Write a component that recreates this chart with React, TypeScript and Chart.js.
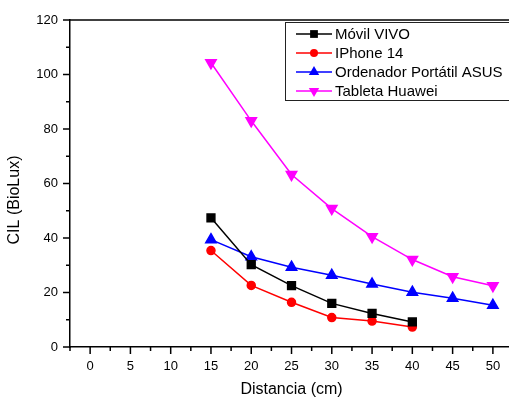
import React, { useEffect, useRef } from "react";
import { Chart, registerables } from "chart.js";

Chart.register(...registerables);

const distances = [15, 20, 25, 30, 35, 40, 45, 50];
const movilVivo = [47.4, 30.2, 22.5, 16.0, 12.3, 9.2];
const iphone14 = [35.4, 22.6, 16.4, 10.8, 9.5, 7.3];
const asus = [39.4, 33.1, 29.3, 26.3, 23.1, 20.1, 17.9, 15.3];
const huawei = [104.3, 83.0, 63.3, 50.8, 40.5, 32.1, 25.8, 22.5];
const seriesNames = ["Móvil VIVO", "IPhone 14", "Ordenador Portátil ASUS", "Tableta Huawei"];
const xTitle = "Distancia (cm)";
const yTitle = "CIL (BioLux)";

const FONT = "'Liberation Sans', Arial, sans-serif";

const toPoints = (vals: number[]) => vals.map((v, i) => ({ x: distances[i], y: v }));

function drawMarker(ctx: any, style: string, rot: number, r: number, x: number, y: number) {
  ctx.beginPath();
  if (style === "rect") {
    const s = r * Math.SQRT2;
    ctx.rect(x - s / 2, y - s / 2, s, s);
  } else if (style === "circle") {
    ctx.arc(x, y, r, 0, Math.PI * 2);
  } else if (style === "triangle") {
    const a = (rot * Math.PI) / 180;
    for (let k = 0; k < 3; k++) {
      const ang = a - Math.PI / 2 + (k * 2 * Math.PI) / 3;
      const px = x + Math.cos(ang) * r;
      const py = y + Math.sin(ang) * r;
      if (k === 0) ctx.moveTo(px, py);
      else ctx.lineTo(px, py);
    }
    ctx.closePath();
  }
  ctx.fill();
}

const decorPlugin = {
  id: "decor",
  afterDraw(chart: any) {
    const ctx = chart.ctx;
    const { left, right, top, bottom } = chart.chartArea;
    const xs = chart.scales.x;
    const ys = chart.scales.y;
    ctx.save();
    ctx.strokeStyle = "#000";
    ctx.lineWidth = 1.5;
    ctx.beginPath();
    ctx.moveTo(left, top);
    ctx.lineTo(right, top);
    ctx.stroke();
    xs.ticks.forEach((t: any) => {
      const px = xs.getPixelForValue(t.value);
      const major = Math.abs(t.value % 5) < 1e-6;
      ctx.beginPath();
      ctx.moveTo(px, bottom);
      ctx.lineTo(px, bottom + (major ? 7 : 4));
      ctx.stroke();
    });
    ys.ticks.forEach((t: any) => {
      const py = ys.getPixelForValue(t.value);
      const major = Math.abs(t.value % 20) < 1e-6;
      ctx.beginPath();
      ctx.moveTo(left, py);
      ctx.lineTo(left - (major ? 7 : 4), py);
      ctx.stroke();
    });
    ctx.fillStyle = "#000";
    ctx.font = `16px ${FONT}`;
    ctx.textAlign = "center";
    ctx.textBaseline = "middle";
    ctx.fillText(xTitle, (left + right) / 2 + 2, 390);
    ctx.save();
    ctx.translate(15, 200);
    ctx.rotate(-Math.PI / 2);
    ctx.fillText(yTitle, 0, 0);
    ctx.restore();
    const bx = 285, by = 22, bw = 240, bh = 78;
    ctx.fillStyle = "#fff";
    ctx.fillRect(bx, by, bw, bh);
    ctx.lineWidth = 1;
    ctx.strokeStyle = "#222";
    ctx.strokeRect(bx + 0.5, by + 0.5, bw, bh);
    ctx.font = `15px ${FONT}`;
    ctx.textAlign = "left";
    chart.data.datasets.forEach((ds: any, i: number) => {
      const y = 34 + i * 19;
      ctx.strokeStyle = ds.borderColor;
      ctx.lineWidth = 1.5;
      ctx.beginPath();
      ctx.moveTo(296, y);
      ctx.lineTo(332, y);
      ctx.stroke();
      ctx.fillStyle = ds.pointBackgroundColor;
      drawMarker(ctx, ds.pointStyle, ds.pointRotation || 0, ds.pointRadius, 314, y);
      ctx.fillStyle = "#000";
      ctx.fillText(ds.label, 335, y + 1);
    });
    ctx.restore();
  },
};

export default function App() {
  const ref = useRef<HTMLCanvasElement>(null);
  useEffect(() => {
    document.body.style.margin = "0";
    const canvas = ref.current!;
    const mk = (label: string, vals: number[], color: string, style: string, radius: number, rotation = 0) => ({
      label,
      data: toPoints(vals),
      borderColor: color,
      backgroundColor: color,
      pointBackgroundColor: color,
      pointBorderColor: color,
      pointStyle: style,
      pointRadius: radius,
      pointRotation: rotation,
      borderWidth: 1.5,
      tension: 0,
    });
    const chart = new Chart(canvas, {
      type: "line",
      data: {
        datasets: [
          mk(seriesNames[0], movilVivo, "#000000", "rect", 5.5),
          mk(seriesNames[1], iphone14, "#ff0000", "circle", 4),
          mk(seriesNames[2], asus, "#0000ff", "triangle", 6),
          mk(seriesNames[3], huawei, "#ff00ff", "triangle", 6, 180),
        ] as any,
      },
      options: {
        responsive: false,
        animation: false,
        devicePixelRatio: 1,
        clip: false,
        layout: { autoPadding: false, padding: { top: 20, left: 0, right: 0, bottom: 0 } },
        plugins: { legend: { display: false }, tooltip: { enabled: false } },
        scales: {
          x: {
            type: "linear",
            min: -2.5,
            max: 52,
            afterFit: (s: any) => {
              s.height = 51;
              s.paddingLeft = 0;
              s.paddingRight = 0;
            },
            afterBuildTicks: (s: any) => {
              const t = [];
              for (let v = -2.5; v <= 52; v += 2.5) t.push({ value: v });
              s.ticks = t;
            },
            ticks: {
              autoSkip: false,
              maxRotation: 0,
              padding: 12,
              color: "#000",
              font: { family: FONT, size: 13 },
              callback: (v: any) => (Math.abs(v % 5) < 1e-6 ? String(v) : ""),
            },
            grid: { display: false, drawTicks: false },
            border: { display: true, color: "#000", width: 1.5 },
          },
          y: {
            min: 0,
            max: 120,
            afterFit: (s: any) => {
              s.width = 70;
              s.paddingTop = 0;
              s.paddingBottom = 0;
            },
            ticks: {
              stepSize: 10,
              autoSkip: false,
              padding: 12,
              color: "#000",
              font: { family: FONT, size: 13 },
              callback: (v: any) => (v % 20 === 0 ? String(v) : ""),
            },
            grid: { display: false, drawTicks: false },
            border: { display: true, color: "#000", width: 1.5 },
          },
        },
      } as any,
      plugins: [decorPlugin],
    });
    return () => chart.destroy();
  }, []);
  return (
    <div style={{ position: "absolute", left: 0, top: 0, width: 509, height: 398, background: "#fff" }}>
      <canvas ref={ref} width={509} height={398} />
    </div>
  );
}
